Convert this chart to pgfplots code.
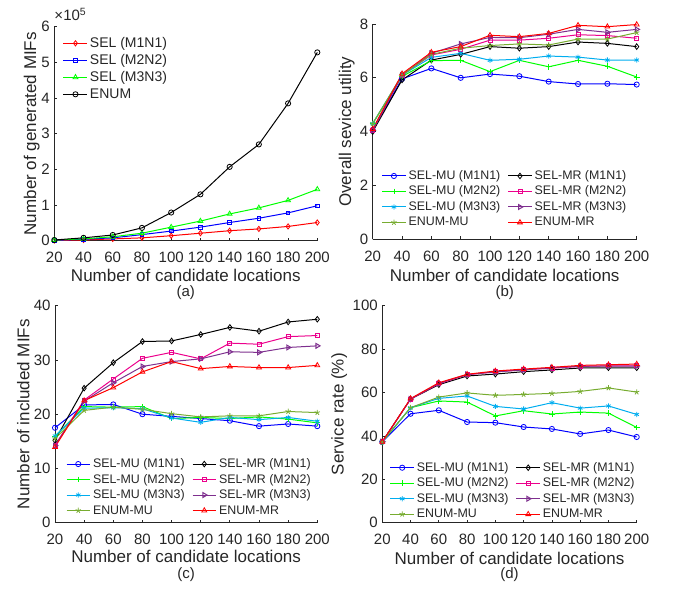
\documentclass[border=0pt]{standalone}
\usepackage{fontspec}
\setmainfont{Liberation Sans}
\usepackage{pgfplots}
\usepackage{pgfplotstable}
\pgfplotsset{compat=1.18}

\definecolor{axgray}{RGB}{38,38,38}
\definecolor{mgreen}{RGB}{0,255,0}
\definecolor{mpurple}{rgb}{0.494,0.184,0.556}
\definecolor{molive}{rgb}{0.466,0.674,0.188}

% (a) generated MIFs, in units of 1e5
\pgfplotstableread{
n   s1     s2     s3     en
20  0.005  0.01   0.02   0.02
40  0.02   0.04   0.05   0.08
60  0.05   0.08   0.11   0.16
80  0.08   0.17   0.21   0.36
100 0.14   0.27   0.38   0.79
120 0.21   0.38   0.55   1.30
140 0.28   0.51   0.75   2.07
160 0.33   0.63   0.92   2.70
180 0.40   0.78   1.13   3.85
200 0.51   0.98   1.44   5.28
}\tabA

% (b) overall service utility
\pgfplotstableread{
n   mu1  mr1  mu2  mr2  mu3  mr3  emu  emr
20  4.06 4.00 4.30 4.05 4.30 4.05 4.30 4.10
40  5.96 5.92 6.05 6.10 6.10 6.10 6.10 6.15
60  6.35 6.66 6.64 6.85 6.76 6.91 6.87 6.95
80  6.00 6.87 6.65 7.06 6.91 7.26 7.10 7.16
100 6.14 7.16 6.23 7.40 6.65 7.50 7.20 7.58
120 6.06 7.10 6.65 7.40 6.69 7.49 7.26 7.53
140 5.86 7.16 6.41 7.47 6.81 7.62 7.22 7.65
160 5.77 7.33 6.65 7.60 6.77 7.80 7.44 7.95
180 5.78 7.28 6.43 7.57 6.66 7.69 7.44 7.90
200 5.75 7.16 6.03 7.47 6.66 7.80 7.68 7.98
}\tabB

% (c) number of included MIFs
\pgfplotstableread{
n   mu1  mr1  mu2  mr2  mu3  mr3  emu  emr
20  17.5 15.2 15.9 14.3 16.0 14.2 15.5 13.95
40  21.7 24.8 21.4 22.6 21.1 22.4 20.7 22.5
60  21.8 29.5 21.3 26.5 21.2 25.8 21.3 24.9
80  20.0 33.4 21.4 30.3 21.0 28.8 20.9 27.8
100 19.6 33.5 19.2 31.4 19.3 29.7 20.1 29.7
120 19.2 34.7 19.4 30.2 18.5 30.2 19.5 28.4
140 18.8 36.0 19.2 33.1 19.4 31.5 19.7 28.8
160 17.8 35.3 19.5 32.9 19.0 31.4 19.7 28.6
180 18.2 37.0 19.1 34.3 19.4 32.3 20.5 28.6
200 17.8 37.5 18.4 34.5 18.7 32.6 20.3 29.0
}\tabC

% (d) service rate (%)
\pgfplotstableread{
n   mu1  mr1  mu2  mr2  mu3  mr3  emu  emr
20  37.3 37.3 37.3 37.3 37.3 37.3 37.3 37.3
40  50.2 57.0 53.0 57.0 53.0 57.0 53.0 57.2
60  51.8 63.6 56.1 64.0 57.3 64.2 57.9 64.5
80  46.4 67.6 55.6 68.2 58.4 68.3 59.8 68.4
100 46.1 68.5 49.2 69.5 53.6 69.5 58.7 69.9
120 44.1 69.6 51.6 70.5 52.4 70.4 59.1 70.8
140 43.2 70.4 50.1 71.2 55.3 71.4 59.6 71.6
160 40.9 71.3 51.0 72.0 52.8 72.1 60.5 72.5
180 42.7 71.4 50.5 72.3 53.8 72.1 62.1 72.8
200 39.5 71.4 43.9 72.3 49.9 72.2 60.2 73.1
}\tabD

\tikzset{every mark/.append style={line width=0.8pt}}

\pgfplotsset{
  panel/.style={
    scale only axis, anchor=south west, clip=false,
    axis x line*=bottom, axis y line*=left,
    axis line style={-, axgray, line width=0.8pt},
    tick align=inside, major tick length=3pt,
    every tick/.style={axgray, line width=0.8pt},
    xmin=20, xmax=200, xtick={20,40,...,200},
    ticklabel style={font=\fontsize{15}{15}\selectfont, text=axgray},
    xticklabel style={yshift=-8pt},
    yticklabel style={xshift=-1pt},
    /pgf/number format/assume math mode=true,
    label style={font=\fontsize{17}{17}\selectfont, text=axgray},
    xlabel={Number of candidate locations},
    every axis plot/.append style={line width=1pt},
    legend cell align=left,
  },
  leg2/.style={
    legend columns=2,
    legend image code/.code={\draw[mark repeat=2,mark phase=2,##1] plot coordinates {(0pt,0pt)(11.75pt,0pt)(23.5pt,0pt)};},
    legend style={draw=none, fill=none, inner sep=0pt, outer sep=0pt,
      anchor=north west, row sep=3.5pt,
      font=\fontsize{12.4}{12.4}\selectfont, text=axgray,
      nodes={inner xsep=2.5pt, inner ysep=0pt, text height=9.5pt, text depth=2.5pt},
      /tikz/column 2/.style={column sep=4.9pt}},
  },
  muA/.style={blue, mark=o, mark size=2.6pt},
  mrA/.style={black, mark=diamond, mark size=2.8pt},
  muB/.style={mgreen, mark=+, mark size=2.8pt},
  mrB/.style={magenta, mark=square, mark size=2pt},
  muC/.style={cyan, mark=asterisk, mark size=2.6pt},
  mrC/.style={mpurple, mark=triangle, mark size=2.8pt, mark options={rotate=-90}},
  enMU/.style={molive, mark=star, mark size=2.8pt},
  enMR/.style={red, mark=triangle, mark size=2.8pt},
}

\newcommand{\eightplots}[1]{%
  \addplot[muA] table[x=n,y=mu1] {#1};
  \addplot[mrA] table[x=n,y=mr1] {#1};
  \addplot[muB] table[x=n,y=mu2] {#1};
  \addplot[mrB] table[x=n,y=mr2] {#1};
  \addplot[muC] table[x=n,y=mu3] {#1};
  \addplot[mrC] table[x=n,y=mr3] {#1};
  \addplot[enMU] table[x=n,y=emu] {#1};
  \addplot[enMR] table[x=n,y=emr] {#1};
  \legend{SEL-MU (M1N1), SEL-MR (M1N1), SEL-MU (M2N2), SEL-MR (M2N2),
          SEL-MU (M3N3), SEL-MR (M3N3), ENUM-MU, ENUM-MR}
}

\begin{document}
\begin{tikzpicture}
\useasboundingbox (0pt,0pt) rectangle (675pt,590pt);

% (a)
\begin{axis}[panel, at={(54.3pt,349.3pt)}, width=263pt, height=214pt,
  ymin=0, ymax=6, ytick={0,1,...,6},
  ylabel={Number of generated MIFs},
  ylabel style={at={(axis description cs:-0.086,0.5)}, anchor=center},
  xlabel style={at={(axis description cs:0.5,-0.164)}, anchor=center},
  legend image code/.code={\draw[mark repeat=2,mark phase=2,#1] plot coordinates {(0pt,0pt)(12pt,0pt)(24pt,0pt)};},
  legend style={at={(axis description cs:0.033,0.954)}, anchor=north west,
    draw=none, fill=none, inner sep=0pt, outer sep=0pt, row sep=3.5pt,
    font=\fontsize{14}{14}\selectfont, text=axgray,
    nodes={inner xsep=2pt, inner ysep=0pt, text height=10.5pt, text depth=3pt}},
]
\addplot[red, mark=diamond, mark size=2.6pt] table[x=n,y=s1] {\tabA};
\addplot[blue, mark=square, mark size=1.8pt] table[x=n,y=s2] {\tabA};
\addplot[mgreen, mark=triangle, mark size=2.8pt] table[x=n,y=s3] {\tabA};
\addplot[black, mark=o, mark size=2.6pt] table[x=n,y=en] {\tabA};
\legend{SEL (M1N1), SEL (M2N2), SEL (M3N3), ENUM}
\node[anchor=base west, font=\fontsize{15}{15}\selectfont, text=axgray, inner sep=0pt]
  at ([yshift=6pt]axis description cs:0,1) {×10\textsuperscript{5}};
\node[font=\fontsize{15}{15}\selectfont, text=axgray] at (axis description cs:0.5,-0.244) {(a)};
\end{axis}

% (b)
\begin{axis}[panel, leg2, at={(372.7pt,350.7pt)}, width=264pt, height=215.3pt,
  ymin=0, ymax=8, ytick={0,2,...,8},
  ylabel={Overall sevice utility},
  ylabel style={at={(axis description cs:-0.098,0.5)}, anchor=center},
  xlabel style={at={(axis description cs:0.5,-0.17)}, anchor=center},
  legend style={at={(axis description cs:0.034,0.322)}},
]
\eightplots{\tabB}
\node[font=\fontsize{15}{15}\selectfont, text=axgray] at (axis description cs:0.5,-0.249) {(b)};
\end{axis}

% (c)
\begin{axis}[panel, leg2, at={(55pt,67.3pt)}, width=262.3pt, height=217pt,
  ymin=0, ymax=40, ytick={0,10,...,40},
  ylabel={Number of included MIFs},
  ylabel style={at={(axis description cs:-0.121,0.5)}, anchor=center},
  xlabel style={at={(axis description cs:0.5,-0.157)}, anchor=center},
  legend style={at={(axis description cs:0.042,0.298)}},
]
\eightplots{\tabC}
\node[font=\fontsize{15}{15}\selectfont, text=axgray] at (axis description cs:0.5,-0.241) {(c)};
\end{axis}

% (d)
\begin{axis}[panel, leg2, at={(382.3pt,67.3pt)}, width=254.4pt, height=217pt,
  ymin=0, ymax=100, ytick={0,20,...,100},
  ylabel={Service rate (\%)},
  ylabel style={at={(axis description cs:-0.169,0.5)}, anchor=center},
  xlabel style={at={(axis description cs:0.5,-0.164)}, anchor=center},
  legend style={at={(axis description cs:0.030,0.281)}},
]
\eightplots{\tabD}
\node[font=\fontsize{15}{15}\selectfont, text=axgray] at (axis description cs:0.5,-0.241) {(d)};
\end{axis}
\end{tikzpicture}
\end{document}
